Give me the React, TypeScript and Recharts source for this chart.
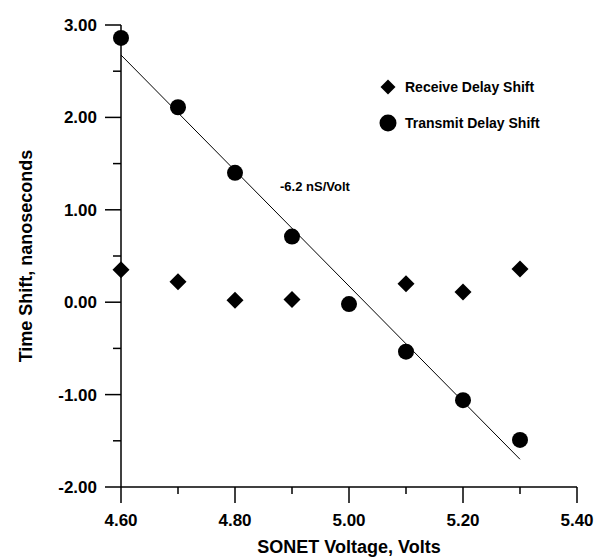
import React from 'react';
import { ScatterChart, Scatter, XAxis, YAxis, Legend, ReferenceDot } from 'recharts';

const receiveDelayShift = [
  { x: 4.6, y: 0.35 },
  { x: 4.7, y: 0.22 },
  { x: 4.8, y: 0.02 },
  { x: 4.9, y: 0.03 },
  { x: 5.1, y: 0.2 },
  { x: 5.2, y: 0.11 },
  { x: 5.3, y: 0.36 },
];

const transmitDelayShift = [
  { x: 4.6, y: 2.86 },
  { x: 4.7, y: 2.11 },
  { x: 4.8, y: 1.4 },
  { x: 4.9, y: 0.71 },
  { x: 5.0, y: -0.02 },
  { x: 5.1, y: -0.535 },
  { x: 5.2, y: -1.06 },
  { x: 5.3, y: -1.49 },
];

const fitLine = [
  { x: 4.6, y: 2.675 },
  { x: 5.3, y: -1.7 },
];

const xTicks = [4.6, 4.7, 4.8, 4.9, 5.0, 5.1, 5.2, 5.3, 5.4];
const yTicks = [-2, -1.5, -1, -0.5, 0, 0.5, 1, 1.5, 2, 2.5, 3];

const seriesNames = ['Receive Delay Shift', 'Transmit Delay Shift'];
const slopeLabel = '-6.2 nS/Volt';
const slopeLabelPos = { x: 4.879, y: 1.258 };
const xTitle = 'SONET Voltage, Volts';
const yTitle = 'Time Shift, nanoseconds';

const FONT = '"Liberation Sans", Arial, Helvetica, sans-serif';

const Diamond = (props: any) => {
  const { cx, cy } = props;
  const s = 8.5;
  return (
    <polygon
      points={`${cx},${cy - s} ${cx + s},${cy} ${cx},${cy + s} ${cx - s},${cy}`}
      fill="#000"
    />
  );
};

const Dot = (props: any) => {
  const { cx, cy } = props;
  return <circle cx={cx} cy={cy} r={8} fill="#000" />;
};

const NoShape = () => <g />;

const XTick = (props: any) => {
  const { x, y, payload } = props;
  const v = payload.value;
  const major = Math.round(v * 10) % 2 === 0;
  return (
    <g>
      <line x1={x} x2={x} y1={y} y2={y + (major ? 16 : 7)} stroke="#000" strokeWidth={1.5} />
      {major && (
        <text x={x} y={y + 39} textAnchor="middle" fontFamily={FONT} fontWeight="bold" fontSize={17} fill="#000">
          {v.toFixed(2)}
        </text>
      )}
    </g>
  );
};

const YTick = (props: any) => {
  const { x, y, payload } = props;
  const v = payload.value;
  const major = Number.isInteger(v);
  return (
    <g>
      <line x1={x - (major ? 16 : 8)} x2={x} y1={y} y2={y} stroke="#000" strokeWidth={1.5} />
      {major && (
        <text x={x - 24} y={y + 6} textAnchor="end" fontFamily={FONT} fontWeight="bold" fontSize={17} fill="#000">
          {v.toFixed(2)}
        </text>
      )}
    </g>
  );
};

const YTitle = (props: any) => {
  const { viewBox } = props;
  const cy = viewBox.y + viewBox.height / 2;
  const cx = 26;
  return (
    <text
      x={cx}
      y={cy}
      transform={`rotate(-90 ${cx} ${cy})`}
      textAnchor="middle"
      dominantBaseline="central"
      fontFamily={FONT}
      fontWeight="bold"
      fontSize={18}
      fill="#000"
    >
      {yTitle}
    </text>
  );
};

const LegendContent = () => (
  <svg width={220} height={64} style={{ display: 'block' }}>
    <polygon points="10,4.5 17.5,12 10,19.5 2.5,12" fill="#000" />
    <text x={27} y={12} dominantBaseline="central" fontFamily={FONT} fontWeight="bold" fontSize={14} fill="#000">
      {seriesNames[0]}
    </text>
    <circle cx={10} cy={48} r={8.5} fill="#000" />
    <text x={27} y={48} dominantBaseline="central" fontFamily={FONT} fontWeight="bold" fontSize={14} fill="#000">
      {seriesNames[1]}
    </text>
  </svg>
);

export default function App() {
  return (
    <div style={{ position: 'absolute', left: 0, top: 0, width: 607, height: 560, background: '#fff' }}>
      <ScatterChart width={607} height={560} margin={{ top: 25, right: 30, bottom: 3, left: 0 }}>
        <XAxis
          type="number"
          dataKey="x"
          domain={[4.6, 5.4]}
          ticks={xTicks}
          interval={0}
          tickSize={0}
          tickMargin={0}
          tickLine={false}
          tick={<XTick />}
          axisLine={{ stroke: '#000', strokeWidth: 1.5 }}
          height={70}
          label={{
            value: xTitle,
            position: 'insideBottom',
            offset: 4,
            fontFamily: FONT,
            fontWeight: 'bold',
            fontSize: 18,
            fill: '#000',
          }}
        />
        <YAxis
          type="number"
          dataKey="y"
          domain={[-2, 3]}
          ticks={yTicks}
          interval={0}
          tickSize={0}
          tickMargin={0}
          tickLine={false}
          tick={<YTick />}
          axisLine={{ stroke: '#000', strokeWidth: 1.5 }}
          width={121}
          label={<YTitle />}
        />
        <Legend
          layout="horizontal"
          verticalAlign="middle"
          align="center"
          content={<LegendContent />}
          wrapperStyle={{ position: 'absolute', left: 378, top: 75, width: 220, height: 64 }}
        />
        <Scatter
          name={seriesNames[1] + ' fit'}
          data={fitLine}
          line={{ stroke: '#000', strokeWidth: 1 }}
          shape={<NoShape />}
          isAnimationActive={false}
        />
        <Scatter name={seriesNames[0]} data={receiveDelayShift} shape={<Diamond />} isAnimationActive={false} />
        <Scatter name={seriesNames[1]} data={transmitDelayShift} shape={<Dot />} isAnimationActive={false} />
        <ReferenceDot
          x={slopeLabelPos.x}
          y={slopeLabelPos.y}
          r={0}
          fill="none"
          stroke="none"
          label={{
            value: slopeLabel,
            position: 'right',
            offset: 0,
            fontFamily: FONT,
            fontWeight: 'bold',
            fontSize: 13,
            fill: '#000',
          }}
        />
      </ScatterChart>
    </div>
  );
}
